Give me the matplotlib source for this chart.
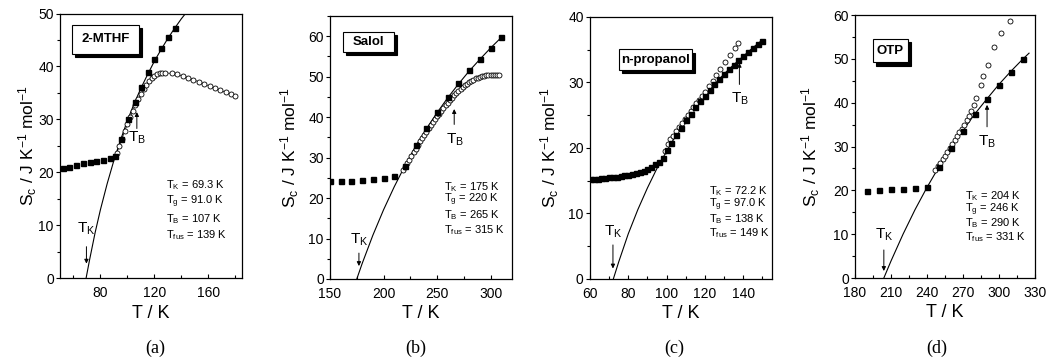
import numpy as np
import matplotlib.pyplot as plt
from matplotlib.patches import Rectangle
from matplotlib.ticker import MultipleLocator

plt.rcParams['font.family'] = ['Liberation Sans', 'DejaVu Sans']
plt.rcParams['mathtext.fontset'] = 'custom'
plt.rcParams['mathtext.rm'] = 'Liberation Sans'
plt.rcParams['mathtext.it'] = 'Liberation Sans:italic'
plt.rcParams['mathtext.bf'] = 'Liberation Sans:bold'
plt.rcParams['mathtext.default'] = 'rm'

# ---- (a) 2-MTHF ----
a_glass_T = [52, 57, 62, 67, 72, 77, 82, 87, 91]
a_glass_S = [20.8, 21.1, 21.4, 21.7, 21.9, 22.1, 22.4, 22.7, 23.1]
a_liq_T = [95.5, 100.5, 105.5, 110, 115, 120, 125, 130, 135]
a_liq_S = [26.3, 30.0, 33.3, 36.2, 39.0, 41.4, 43.5, 45.5, 47.3]
a_open_T = [92, 94, 96, 98, 100, 102, 104, 106, 108, 110, 112, 114, 116, 118, 120,
            122, 124, 126, 128, 133, 137, 141, 145, 149, 153, 157, 161, 165, 169,
            173, 177, 180]
a_open_S = [23.6, 25.0, 26.4, 27.8, 29.1, 30.4, 31.6, 32.8, 33.9, 34.9, 35.8, 36.6,
            37.3, 37.8, 38.2, 38.5, 38.7, 38.8, 38.8, 38.7, 38.5, 38.2, 37.9, 37.5,
            37.1, 36.7, 36.3, 35.9, 35.5, 35.1, 34.8, 34.5]
a_fit_T = [69.3, 72, 76, 80, 85, 90, 95, 100, 105, 110, 115, 120, 125, 130, 135, 140, 145]
a_fit_S = [0, 3.6, 8.6, 13.0, 17.9, 22.3, 26.2, 29.8, 33.0, 35.9, 38.5, 41.0, 43.2,
           45.3, 47.2, 49.0, 50.6]
a_info = ['$T_K$ = 69.3 K', '$T_g$ = 91.0 K', '$T_B$ = 107 K', '$T_{fus}$ = 139 K']

# ---- (b) Salol ----
b_glass_T = [150, 160, 170, 180, 190, 200, 210]
b_glass_S = [24.1, 24.1, 24.3, 24.5, 24.8, 25.0, 25.4]
b_liq_T = [220, 230, 240, 250, 260, 270, 280, 290, 300, 310]
b_liq_S = [28.0, 33.0, 37.3, 41.3, 44.9, 48.4, 51.6, 54.4, 57.2, 59.7]
b_open_T = [218, 220, 222, 224, 226, 228, 230, 232, 234, 236, 238, 240, 242, 244,
            246, 248, 250, 252, 254, 256, 258, 260, 262, 264, 266, 268, 270, 272,
            274, 276, 278, 280, 282, 284, 286, 288, 290, 292, 294, 296, 298, 300,
            302, 304, 306, 308]
b_open_S = [27.0, 27.6, 28.6, 29.5, 30.4, 31.3, 32.2, 33.1, 34.0, 34.8, 35.6, 36.4,
            37.2, 38.0, 38.7, 39.5, 40.2, 40.9, 41.6, 42.3, 43.0, 43.6, 44.2, 44.8,
            45.4, 45.9, 46.5, 47.0, 47.5, 47.9, 48.3, 48.7, 49.0, 49.3, 49.6, 49.8,
            50.0, 50.1, 50.2, 50.3, 50.3, 50.4, 50.4, 50.4, 50.3, 50.3]
b_fit_T = [175, 180, 190, 200, 210, 220, 230, 240, 250, 260, 270, 280, 290, 300, 310]
b_fit_S = [0, 3.8, 10.8, 17.1, 22.8, 28.0, 32.8, 37.1, 41.1, 44.8, 48.2, 51.4, 54.3,
           57.1, 59.7]
b_info = ['$T_K$ = 175 K', '$T_g$ = 220 K', '$T_B$ = 265 K', '$T_{fus}$ = 315 K']

# ---- (c) n-propanol ----
c_glass_T = [60, 62, 64, 66, 68, 70, 72, 74, 76, 78, 80, 82, 84, 86, 88, 90, 92, 94, 96, 98]
c_glass_S = [15.2, 15.25, 15.3, 15.35, 15.4, 15.5, 15.55, 15.6, 15.7, 15.8, 15.9, 16.0,
             16.2, 16.3, 16.5, 16.8, 17.1, 17.5, 17.9, 18.4]
c_liq_T = [100, 102.5, 105, 107.5, 110, 112.5, 115, 117.5, 120, 122.5, 125, 127.5,
           130, 132.5, 135, 137.5, 140, 142.5, 145, 147.5, 150]
c_liq_S = [19.7, 20.8, 22.0, 23.1, 24.2, 25.2, 26.2, 27.1, 28.0, 28.9, 29.7, 30.5,
           31.3, 32.0, 32.7, 33.4, 34.0, 34.7, 35.3, 35.9, 36.4]
c_open_T = [99, 100.5, 102, 103.5, 105, 106.5, 108, 109.5, 111, 112.5, 114, 115.5,
            117, 118.5, 120, 122, 124, 126, 128, 130.5, 133, 135.5, 137.5]
c_open_S = [19.6, 20.6, 21.3, 21.9, 22.6, 23.2, 23.8, 24.4, 25.0, 25.6, 26.2, 26.8,
            27.4, 28.0, 28.6, 29.4, 30.3, 31.1, 32.0, 33.1, 34.2, 35.3, 36.1]
c_fit_T = [72.2, 75, 80, 85, 90, 95, 100, 105, 110, 115, 120, 125, 130, 135, 140, 145, 150]
c_fit_S = [0, 2.6, 6.9, 10.6, 13.9, 16.9, 19.5, 22.0, 24.2, 26.2, 28.0, 29.7, 31.3,
           32.7, 34.0, 35.3, 36.5]
c_info = ['$T_K$ = 72.2 K', '$T_g$ = 97.0 K', '$T_B$ = 138 K', '$T_{fus}$ = 149 K']

# ---- (d) OTP ----
d_glass_T = [190, 200, 210, 220, 230]
d_glass_S = [19.9, 20.0, 20.2, 20.4, 20.5]
d_liq_T = [240, 250, 260, 270, 280, 290, 300, 310, 320]
d_liq_S = [20.7, 25.4, 29.7, 33.6, 37.4, 40.9, 44.1, 47.1, 50.0]
d_open_T = [247, 249, 251, 253, 255, 257, 259, 261, 263, 265, 267, 269, 271, 273,
            275, 277, 279, 281, 285, 287, 291, 296, 302, 309]
d_open_S = [24.7, 25.5, 26.3, 27.1, 27.9, 28.8, 29.6, 30.5, 31.4, 32.3, 33.2, 34.1,
            35.0, 36.0, 37.0, 38.1, 39.4, 41.0, 44.0, 46.2, 48.7, 52.8, 55.9, 58.7]
d_fit_T = [204, 210, 220, 230, 240, 250, 260, 270, 280, 290, 300, 310, 320, 325]
d_fit_S = [0, 3.9, 10.0, 15.6, 20.7, 25.4, 29.7, 33.7, 37.5, 40.9, 44.2, 47.2, 50.0, 51.3]
d_info = ['$T_K$ = 204 K', '$T_g$ = 246 K', '$T_B$ = 290 K', '$T_{fus}$ = 331 K']

fig = plt.figure(figsize=(10.49, 3.62), dpi=100)

panels = [
    dict(rect=[0.0572, 0.2307, 0.1735, 0.732], glass=(a_glass_T, a_glass_S), liq=(a_liq_T, a_liq_S),
         opn=(a_open_T, a_open_S), fit=(a_fit_T, a_fit_S), xlim=(50, 185), ylim=(0, 50),
         xmaj=40, xmin=20, name='2-MTHF', box=(0.067, 0.847, 0.365, 0.11), info=a_info,
         info_x=0.585, info_y=[0.352, 0.289, 0.226, 0.164], tk=(69.6, 9.3, 6.0, 2.8),
         tb=(107, 28.3, 31.4, 26.5), join=True, cap='(a)', cap_x=155, ylab_x=-0.115),
    dict(rect=[0.3146, 0.2293, 0.1735, 0.7265], glass=(b_glass_T, b_glass_S), liq=(b_liq_T, b_liq_S),
         opn=(b_open_T, b_open_S), fit=(b_fit_T, b_fit_S), xlim=(150, 320), ylim=(0, 65),
         xmaj=50, xmin=25, name='Salol', box=(0.073, 0.864, 0.28, 0.076), info=b_info,
         info_x=0.627, info_y=[0.35, 0.30, 0.242, 0.185], tk=(177, 9.7, 6.4, 3.2),
         tb=(266, 38.2, 42.0, 34.5), join=True, cap='(b)', cap_x=416, ylab_x=-0.16),
    dict(rect=[0.5624, 0.2293, 0.1735, 0.7238], glass=(c_glass_T, c_glass_S), liq=(c_liq_T, c_liq_S),
         opn=(c_open_T, c_open_S), fit=(c_fit_T, c_fit_S), xlim=(60, 155), ylim=(0, 40),
         xmaj=20, xmin=10, name='n-propanol', box=(0.16, 0.797, 0.40, 0.079), info=c_info,
         info_x=0.655, info_y=[0.335, 0.282, 0.228, 0.175], tk=(72, 7.2, 5.2, 1.6),
         tb=(138, 29.7, 33.0, 27.5), join=False, cap='(c)', cap_x=674, ylab_x=-0.16),
    dict(rect=[0.8151, 0.2320, 0.1716, 0.7265], glass=(d_glass_T, d_glass_S), liq=(d_liq_T, d_liq_S),
         opn=(d_open_T, d_open_S), fit=(d_fit_T, d_fit_S), xlim=(180, 330), ylim=(0, 60),
         xmaj=30, xmin=15, name='OTP', box=(0.1, 0.82, 0.194, 0.09), info=d_info,
         info_x=0.61, info_y=[0.313, 0.261, 0.209, 0.156], tk=(204, 9.8, 6.4, 1.6),
         tb=(290, 34.5, 39.5, 31.0), join=False, cap='(d)', cap_x=937, ylab_x=-0.185),
]

for p in panels:
    ax = fig.add_axes(p['rect'])
    ax.plot(p['fit'][0], p['fit'][1], color='k', lw=0.8, zorder=2)
    ls = '-' if p['join'] else 'none'
    ax.plot(p['opn'][0], p['opn'][1], ls=ls, lw=0.5, color='k', marker='o', ms=3.6,
            mfc='white', mec='k', mew=0.6, zorder=3)
    ax.plot(p['glass'][0], p['glass'][1], ls='none', marker='s', ms=3.6, color='k', zorder=4)
    ax.plot(p['liq'][0], p['liq'][1], ls='none', marker='s', ms=3.6, color='k', zorder=4)

    ax.set_xlim(p['xlim'])
    ax.set_ylim(p['ylim'])
    ax.xaxis.set_major_locator(MultipleLocator(p['xmaj']))
    ax.xaxis.set_minor_locator(MultipleLocator(p['xmin']))
    ax.yaxis.set_major_locator(MultipleLocator(10))
    ax.yaxis.set_minor_locator(MultipleLocator(5))
    ax.tick_params(axis='x', which='major', direction='in', length=3, width=0.8, labelsize=10, pad=5.5)
    ax.tick_params(axis='x', which='minor', direction='in', length=2, width=0.8)
    ax.tick_params(axis='y', which='major', direction='out', length=3, width=0.8, labelsize=10, pad=1.5)
    ax.tick_params(axis='y', which='minor', direction='out', length=2, width=0.8)
    for s in ax.spines.values():
        s.set_linewidth(0.9)

    ax.set_xlabel('T / K', fontsize=13)
    ax.xaxis.set_label_coords(0.5, -0.1)
    ax.set_ylabel('S$_c$ / J K$^{-1}$ mol$^{-1}$', fontsize=12.5)
    ax.yaxis.set_label_coords(p['ylab_x'], 0.5)

    # name box with drop shadow
    bx, by, bw, bh = p['box']
    ax.add_patch(Rectangle((bx + 0.016, by - 0.012), bw, bh, transform=ax.transAxes,
                           facecolor='k', edgecolor='k', lw=0.8, zorder=5))
    ax.add_patch(Rectangle((bx, by), bw, bh, transform=ax.transAxes,
                           facecolor='white', edgecolor='k', lw=0.8, zorder=6))
    ax.text(bx + bw / 2, by + bh / 2, p['name'], transform=ax.transAxes, ha='center',
            va='center', fontsize=9.5, fontweight='bold', zorder=7)

    for txt, yy in zip(p['info'], p['info_y']):
        ax.text(p['info_x'], yy, txt, transform=ax.transAxes, fontsize=8, va='center')

    tkx, tky, tka, tkb = p['tk']
    ax.text(tkx, tky, '$T_K$', fontsize=11, ha='center', va='center')
    ax.annotate('', xy=(tkx, tkb), xytext=(tkx, tka),
                arrowprops=dict(arrowstyle='-|>', color='k', lw=0.7, mutation_scale=6,
                                shrinkA=0, shrinkB=0))
    tbx, tb0, tb1, tbl = p['tb']
    ax.annotate('', xy=(tbx, tb1), xytext=(tbx, tb0),
                arrowprops=dict(arrowstyle='-|>', color='k', lw=0.7, mutation_scale=6,
                                shrinkA=0, shrinkB=0))
    ax.text(tbx + 0.3, tbl, '$T_B$', fontsize=11, ha='center', va='center')

    fig.text(p['cap_x'] / 1049, 0.039, p['cap'], fontsize=13, family='Liberation Serif',
             ha='center', va='center')

fig.savefig('out.png', dpi=100)
